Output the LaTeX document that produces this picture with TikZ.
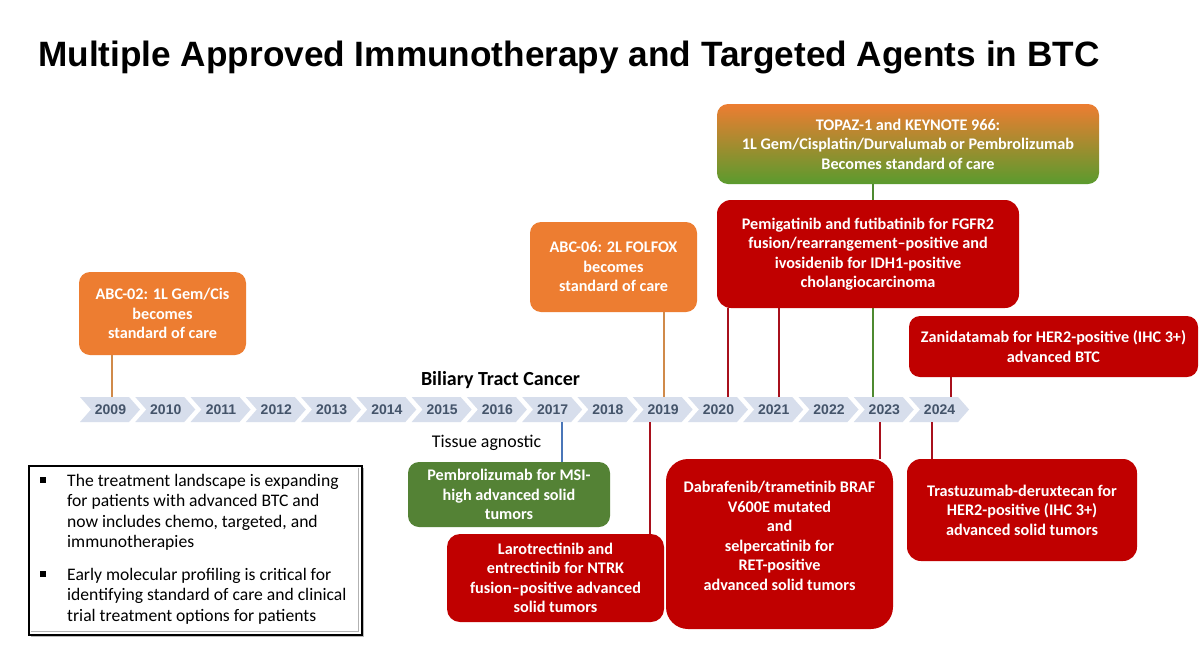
\documentclass[tikz,border=0pt]{standalone}
\usepackage{fontspec}
\setmainfont{Carlito}
\newfontfamily\arialfont{Liberation Sans}
\definecolor{boxorange}{HTML}{ED7D31}
\definecolor{boxred}{HTML}{C00000}
\definecolor{boxgreen}{HTML}{548235}
\definecolor{gradgreen}{HTML}{5A9B2E}
\definecolor{chevfill}{HTML}{D7DEEC}
\definecolor{yeartext}{HTML}{44546A}
\definecolor{tanline}{HTML}{D08A4A}
\definecolor{redline}{HTML}{A8101C}
\definecolor{greenline}{HTML}{4E8A30}
\definecolor{blueline}{HTML}{4A76B8}
\begin{document}
\begin{tikzpicture}[x=1pt,y=-1pt,
  chev/.style={fill=chevfill},
  yearlbl/.style={inner sep=0, text=yeartext, font=\arialfont\bfseries\fontsize{14}{16}\selectfont},
  evbox/.style={rounded corners=11, inner sep=0, align=center, text=white,
    font=\bfseries\fontsize{16.2}{19.5}\selectfont},
  orangebox/.style={evbox, fill=boxorange},
  redbox/.style={evbox, fill=boxred},
  greenbox/.style={evbox, fill=boxgreen},
  conn/.style={line width=1.5pt},
  bodytext/.style={inner sep=0, align=left, font=\fontsize{17.6}{20.5}\selectfont},
]
\useasboundingbox[fill=white] (0,0) rectangle (1200,667);

% title
\node[anchor=base west, inner sep=0, font=\arialfont\bfseries\fontsize{35.2}{40}\selectfont] (title) at (38,66)
  {Multiple Approved Immunotherapy and Targeted Agents in BTC};

% connector end points on the timeline
\coordinate (t2009) at (112,397);
\coordinate (t2019) at (664,397);
\coordinate (t2020) at (728,397);
\coordinate (t2021) at (779,397);
\coordinate (t2023) at (873,397);
\coordinate (t2024) at (951,397);
\coordinate (b2017) at (562,422);
\coordinate (b2019) at (650,422);
\coordinate (b2023) at (880,422);
\coordinate (b2024) at (932,422);

% boxes above
\node[orangebox, minimum width=167, minimum height=83] (abc02) at (162.5,313.5)
  {ABC-02: 1L Gem/Cis\\becomes\\standard of care};
\node[orangebox, minimum width=167, minimum height=90] (abc06) at (613.5,267)
  {ABC-06: 2L FOLFOX\\becomes\\standard of care};
\node[evbox, top color=boxorange, bottom color=gradgreen, minimum width=382, minimum height=80] (topaz) at (908,144)
  {TOPAZ-1 and KEYNOTE 966:\\1L Gem/Cisplatin/Durvalumab or Pembrolizumab\\Becomes standard of care};

% connectors above (drawn before the red box so it covers the green line)
\draw[conn, tanline] (t2009 |- abc02.south) -- (t2009);
\draw[conn, tanline] (t2019 |- abc06.south) -- (t2019);
\draw[conn, greenline] (t2023 |- topaz.south) -- (t2023);

\node[redbox, rounded corners=14, minimum width=302, minimum height=108] (pemi) at (868,254)
  {Pemigatinib and futibatinib for FGFR2\\fusion/rearrangement--positive and\\ivosidenib for IDH1-positive\\cholangiocarcinoma};
\node[redbox, minimum width=289, minimum height=61] (zani) at (1053.5,346.5)
  {Zanidatamab for HER2-positive (IHC 3+)\\advanced BTC};

\draw[conn, redline] (t2020 |- pemi.south) -- (t2020);
\draw[conn, redline] (t2021 |- pemi.south) -- (t2021);
\draw[conn, redline] (t2024 |- zani.south) -- (t2024);

% timeline chevrons
\foreach \yr [count=\i from 0] in {2009,...,2024} {
  \pgfmathsetmacro\xx{80+55.27*\i}
  \fill[chev] (\xx,397) -- ++(49,0) -- ++(11,12.5) -- ++(-11,12.5) -- ++(-49,0) -- ++(11,-12.5) -- cycle;
  \node[yearlbl] (y\yr) at (\xx+30.5,409.5) {\yr};
}

\node[anchor=base, inner sep=0, font=\bfseries\fontsize{20}{22}\selectfont] (btc) at (500.5,385)
  {Biliary Tract Cancer};
\node[anchor=base, inner sep=0, font=\fontsize{17.9}{20}\selectfont] (tissue) at (486.5,447.5)
  {Tissue agnostic};

% boxes below
\node[greenbox, minimum width=202, minimum height=65] (pembro) at (509,494.5)
  {Pembrolizumab for MSI-\\high advanced solid\\tumors};
\node[redbox, rounded corners=13, minimum width=217, minimum height=88] (laro) at (555.5,578)
  {Larotrectinib and\\entrectinib for NTRK\\fusion--positive advanced\\solid tumors};
\node[redbox, rounded corners=22, minimum width=227, minimum height=170] (dabra) at (779.5,544) {};
\node[evbox] (dabratxt) at (779.5,536)
  {Dabrafenib/trametinib BRAF\\V600E mutated\\and\\selpercatinib for\\RET-positive\\advanced solid tumors};
\node[redbox, rounded corners=14, minimum width=230, minimum height=102] (trastu) at (1022,510)
  {Trastuzumab-deruxtecan for\\HER2-positive (IHC 3+)\\advanced solid tumors};

\draw[conn, blueline] (b2017) -- (b2017 |- pembro.north);
\draw[conn, redline] (b2019) -- (b2019 |- laro.north);
\draw[conn, redline] (b2023) -- (b2023 |- dabra.north);
\draw[conn, redline] (b2024) -- (b2024 |- trastu.north);

% summary box
\fill[gray!55] (31,468) rectangle (364,637);
\node[draw=black, line width=1.5pt, fill=white, inner sep=0, minimum width=333, minimum height=169, anchor=north west] (summary) at (28,465) {};
\draw[gray!60, line width=1pt] (30.5,631.5) -- (358.5,631.5) -- (358.5,467.5);
\fill[black] (40,477) rectangle (46,483);
\fill[black] (40,571) rectangle (46,577);
\node[bodytext, anchor=north west] (bul1) at (67,474)
  {The treatment landscape is expanding\\for patients with advanced BTC and\\now includes chemo, targeted, and\\immunotherapies};
\node[bodytext, anchor=north west] (bul2) at (67,568)
  {Early molecular profiling is critical for\\identifying standard of care and clinical\\trial treatment options for patients};
\end{tikzpicture}
\end{document}
